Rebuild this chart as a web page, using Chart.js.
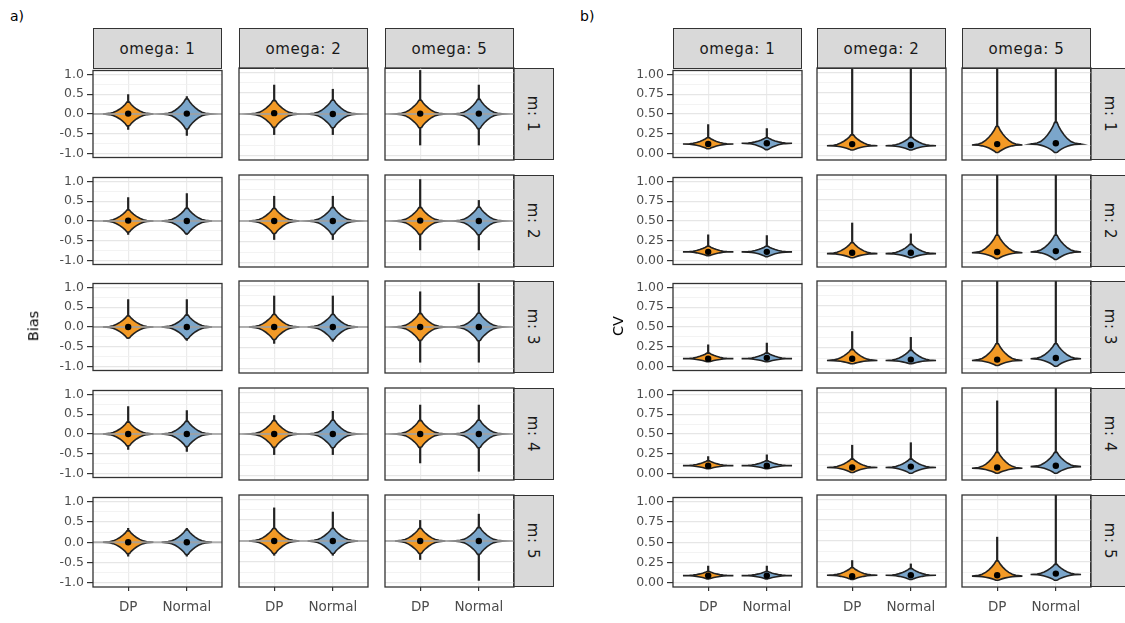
<!DOCTYPE html>
<html>
<head>
<meta charset="utf-8">
<script src="https://cdn.jsdelivr.net/npm/chart.js@4.4.0/dist/chart.umd.min.js"></script>
<style>
  body { margin: 0; background: #fff; width: 1125px; height: 623px; overflow: hidden; position: relative; font-family: "DejaVu Sans", sans-serif; }
  canvas { position: absolute; }
  .strip { position: absolute; background: #d9d9d9; border: 1px solid #333; box-sizing: border-box; color: #1a1a1a;
           font-size: 15px; letter-spacing: 0.6px; display: flex; align-items: center; justify-content: center; white-space: nowrap; }
  .strip.v span { display: inline-block; transform: rotate(90deg); }
  .lab { position: absolute; color: #000; font-size: 14px; white-space: nowrap; }
  .ytitle { position: absolute; font-size: 14.5px; color: #000; transform: rotate(-90deg); transform-origin: center; white-space: nowrap; }
</style>
</head>
<body>
<script>
// facets
const OMEGAS = ['1', '2', '5'];
const MS = ['1', '2', '3', '4', '5'];
const GROUPS = ['DP', 'Normal'];
const BIAS_TICKS = [-1, -0.5, 0, 0.5, 1];
const CV_TICKS = [0, 0.25, 0.5, 0.75, 1];

// violin outline: offset from the mode (share of body reach) -> share of max width
const PROFILE_OFFSET = [0, 0.05, 0.12, 0.25, 0.42, 0.6, 0.8, 1.0];
const PROFILE_WIDTH = [1, 0.74, 0.6, 0.46, 0.33, 0.22, 0.12, 0.05];

// Bias, rows m: 1..5, columns omega: 1, 2, 5
const BIAS_DP_LO = [[-0.4, -0.5, -0.75], [-0.35, -0.45, -0.7], [-0.3, -0.4, -0.85], [-0.4, -0.5, -0.7], [-0.35, -0.35, -0.45]];
const BIAS_DP_HI = [[0.5, 0.7, 1.05], [0.6, 0.6, 1.0], [0.7, 0.75, 0.85], [0.7, 0.45, 0.7], [0.35, 0.8, 0.5]];
const BIAS_DP_SPREAD = [[0.3, 0.32, 0.33], [0.28, 0.3, 0.32], [0.28, 0.3, 0.32], [0.3, 0.32, 0.32], [0.28, 0.3, 0.3]];
const BIAS_DP_MEAN = [[0.01, 0.02, 0.01], [0.01, 0.0, 0.01], [0.0, 0.0, 0.0], [0.0, 0.0, 0.0], [0.0, 0.0, 0.0]];
const BIAS_NORMAL_LO = [[-0.55, -0.5, -0.75], [-0.35, -0.45, -0.7], [-0.35, -0.35, -0.85], [-0.45, -0.5, -0.9], [-0.35, -0.35, -0.95]];
const BIAS_NORMAL_HI = [[0.45, 0.6, 0.7], [0.7, 0.6, 0.5], [0.7, 0.75, 1.05], [0.6, 0.55, 0.7], [0.35, 0.7, 0.65]];
const BIAS_NORMAL_SPREAD = [[0.38, 0.33, 0.35], [0.32, 0.32, 0.33], [0.3, 0.3, 0.33], [0.32, 0.33, 0.33], [0.3, 0.3, 0.32]];
const BIAS_NORMAL_MEAN = [[0.01, 0.0, 0.01], [0.0, 0.0, 0.0], [0.0, 0.0, 0.0], [0.0, 0.0, 0.0], [0.0, 0.0, 0.0]];

// CV
const CV_DP_LO = [[0.06, 0.07, 0.04], [0.06, 0.06, 0.05], [0.06, 0.06, 0.04], [0.06, 0.04, 0.03], [0.05, 0.04, 0.03]];
const CV_DP_MODE = [[0.12, 0.12, 0.13], [0.11, 0.11, 0.12], [0.1, 0.1, 0.1], [0.1, 0.1, 0.09], [0.09, 0.09, 0.08]];
const CV_DP_TOP = [[0.2, 0.25, 0.35], [0.18, 0.24, 0.33], [0.17, 0.23, 0.3], [0.16, 0.2, 0.28], [0.14, 0.18, 0.26]];
const CV_DP_HI = [[0.37, 1.05, 1.05], [0.33, 0.48, 1.05], [0.28, 0.45, 1.05], [0.22, 0.37, 0.9], [0.21, 0.27, 0.55]];
const CV_DP_MEAN = [[0.12, 0.14, 0.14], [0.11, 0.12, 0.13], [0.1, 0.12, 0.11], [0.1, 0.1, 0.1], [0.09, 0.08, 0.09]];
const CV_NORMAL_LO = [[0.05, 0.07, 0.04], [0.05, 0.06, 0.04], [0.06, 0.06, 0.03], [0.06, 0.03, 0.03], [0.05, 0.04, 0.03]];
const CV_NORMAL_MODE = [[0.13, 0.12, 0.14], [0.11, 0.11, 0.13], [0.1, 0.1, 0.12], [0.1, 0.1, 0.11], [0.09, 0.09, 0.1]];
const CV_NORMAL_TOP = [[0.2, 0.22, 0.4], [0.18, 0.22, 0.33], [0.17, 0.22, 0.3], [0.16, 0.2, 0.28], [0.14, 0.17, 0.22]];
const CV_NORMAL_HI = [[0.32, 1.05, 1.05], [0.32, 0.35, 1.05], [0.3, 0.38, 1.05], [0.24, 0.4, 1.05], [0.21, 0.23, 1.05]];
const CV_NORMAL_MEAN = [[0.13, 0.13, 0.15], [0.11, 0.12, 0.14], [0.11, 0.11, 0.13], [0.1, 0.11, 0.12], [0.09, 0.09, 0.11]];

// layout
const ROW_TOP = [68, 175, 281, 388, 495];
const PANEL_H = 92;
const PANEL_W = 129;
const COLS_A = [93, 239, 385];
const COLS_B = [673, 817, 962];
const STRIP_TOP = 28, STRIP_H = 40, STRIP_W = 41;
const AXW = 45, AXH = 30, M = 8;
const HALF = 0.43;
const FILL = ['#f39a26', '#7ba6cb'];
const OUTLINE = '#222';

const borderPlugin = {
  id: 'panelBorder',
  afterDraw(c) {
    const a = c.chartArea, g = c.ctx;
    g.save();
    g.strokeStyle = '#333';
    g.lineWidth = 1.3;
    g.strokeRect(a.left, a.top, a.right - a.left, a.bottom - a.top);
    g.restore();
  }
};

function violinShape(xc, mid, down, up) {
  const n = PROFILE_OFFSET.length;
  const pts = [];
  for (let i = n - 1; i >= 0; i--) pts.push({ x: xc + HALF * PROFILE_WIDTH[i], y: mid - down * PROFILE_OFFSET[i] });
  for (let i = 1; i < n; i++) pts.push({ x: xc + HALF * PROFILE_WIDTH[i], y: mid + up * PROFILE_OFFSET[i] });
  for (let i = n - 1; i >= 0; i--) pts.push({ x: xc - HALF * PROFILE_WIDTH[i], y: mid + up * PROFILE_OFFSET[i] });
  for (let i = 1; i < n; i++) pts.push({ x: xc - HALF * PROFILE_WIDTH[i], y: mid - down * PROFILE_OFFSET[i] });
  pts.push({ x: pts[0].x, y: pts[0].y });
  return pts;
}

function violinDatasets(v, g) {
  const xc = g + 1;
  return [
    { data: [{ x: xc, y: v.lo }, { x: xc, y: v.hi }], borderColor: OUTLINE, borderWidth: 2.2, pointRadius: 0, order: 3 },
    { data: violinShape(xc, v.mid, v.down, v.up), borderColor: OUTLINE, borderWidth: 1.6, backgroundColor: FILL[g],
      fill: 'shape', pointRadius: 0, order: 2 },
    { data: [{ x: xc, y: v.mean }], showLine: false, pointRadius: 3.2, pointBackgroundColor: '#000', pointBorderWidth: 0, order: 0 }
  ];
}

function makePanel(x0, y0, leftCol, bottom, kind, violins) {
  const isBias = kind === 'bias';
  const majors = isBias ? BIAS_TICKS : CV_TICKS;
  const vals = [];
  majors.forEach((t, i) => {
    vals.push(t);
    if (i < majors.length - 1) vals.push((t + majors[i + 1]) / 2);
  });
  const isMajor = v => majors.some(t => Math.abs(t - v) < 1e-9);

  const cv = document.createElement('canvas');
  const w = PANEL_W + 2 * M + (leftCol ? AXW : 0);
  const h = PANEL_H + 2 * M + (bottom ? AXH : 0);
  cv.width = w; cv.height = h;
  cv.style.left = (x0 - M - (leftCol ? AXW : 0)) + 'px';
  cv.style.top = (y0 - M) + 'px';
  cv.style.width = w + 'px'; cv.style.height = h + 'px';
  document.body.appendChild(cv);

  let datasets = [];
  violins.forEach((v, g) => { datasets = datasets.concat(violinDatasets(v, g)); });
  if (isBias) {
    datasets.push({ data: [{ x: 0.4, y: 0 }, { x: 2.6, y: 0 }], borderColor: 'rgba(160,160,160,0.8)', borderWidth: 2, pointRadius: 0, order: 1 });
  }

  new Chart(cv, {
    type: 'line',
    data: { datasets },
    options: {
      responsive: false,
      animation: false,
      devicePixelRatio: 1,
      events: [],
      layout: { padding: M },
      elements: { line: { tension: 0 } },
      plugins: { legend: { display: false }, tooltip: { enabled: false } },
      scales: {
        x: {
          type: 'linear', min: 0.4, max: 2.6,
          afterBuildTicks: s => { s.ticks = [{ value: 1 }, { value: 2 }]; },
          afterFit: s => { s.height = bottom ? AXH : 0; },
          border: { display: false },
          grid: { color: '#ebebeb', lineWidth: 1.2, drawTicks: bottom, tickLength: 4, tickColor: '#333' },
          ticks: { display: bottom, autoSkip: false, maxRotation: 0, padding: 8, color: '#4d4d4d',
                   font: { family: 'DejaVu Sans', size: 13.5 }, callback: v => GROUPS[Math.round(v) - 1] }
        },
        y: {
          type: 'linear', min: isBias ? -1.1 : -0.05, max: isBias ? 1.1 : 1.05,
          afterBuildTicks: s => { s.ticks = vals.map(v => ({ value: v })); },
          afterFit: s => { s.width = leftCol ? AXW : 0; },
          border: { display: false },
          grid: {
            color: c => isMajor(c.tick.value) ? '#e6e6e6' : '#f0f0f0',
            lineWidth: c => isMajor(c.tick.value) ? 1.2 : 0.8,
            drawTicks: leftCol, tickLength: 6,
            tickColor: c => isMajor(c.tick.value) ? '#333' : 'rgba(0,0,0,0)'
          },
          ticks: { display: leftCol, autoSkip: false, padding: 3, color: '#4d4d4d',
                   font: { family: 'DejaVu Sans', size: 12.5 },
                   callback: v => isMajor(v) ? v.toFixed(isBias ? 1 : 2) : '' }
        }
      }
    },
    plugins: [borderPlugin]
  });
}

function addDiv(cls, html, left, top, w, h) {
  const d = document.createElement('div');
  d.className = cls;
  d.innerHTML = html;
  d.style.left = left + 'px'; d.style.top = top + 'px';
  if (w != null) d.style.width = w + 'px';
  if (h != null) d.style.height = h + 'px';
  document.body.appendChild(d);
  return d;
}

function buildFigure(cols, kind) {
  cols.forEach((x0, c) => {
    addDiv('strip', 'omega: ' + OMEGAS[c], x0, STRIP_TOP, PANEL_W, STRIP_H + 1);
  });
  MS.forEach((m, r) => {
    addDiv('strip v', '<span>m: ' + m + '</span>', cols[2] + PANEL_W - 1, ROW_TOP[r], STRIP_W, PANEL_H);
    cols.forEach((x0, c) => {
      let violins;
      if (kind === 'bias') {
        violins = [
          { lo: BIAS_DP_LO[r][c], hi: BIAS_DP_HI[r][c], mid: 0, down: BIAS_DP_SPREAD[r][c], up: BIAS_DP_SPREAD[r][c], mean: BIAS_DP_MEAN[r][c] },
          { lo: BIAS_NORMAL_LO[r][c], hi: BIAS_NORMAL_HI[r][c], mid: 0, down: BIAS_NORMAL_SPREAD[r][c], up: BIAS_NORMAL_SPREAD[r][c], mean: BIAS_NORMAL_MEAN[r][c] }
        ];
      } else {
        violins = [
          { lo: CV_DP_LO[r][c], hi: CV_DP_HI[r][c], mid: CV_DP_MODE[r][c], down: CV_DP_MODE[r][c] - CV_DP_LO[r][c],
            up: CV_DP_TOP[r][c] - CV_DP_MODE[r][c], mean: CV_DP_MEAN[r][c] },
          { lo: CV_NORMAL_LO[r][c], hi: CV_NORMAL_HI[r][c], mid: CV_NORMAL_MODE[r][c], down: CV_NORMAL_MODE[r][c] - CV_NORMAL_LO[r][c],
            up: CV_NORMAL_TOP[r][c] - CV_NORMAL_MODE[r][c], mean: CV_NORMAL_MEAN[r][c] }
        ];
      }
      makePanel(x0, ROW_TOP[r], c === 0, r === MS.length - 1, kind, violins);
    });
  });
}

buildFigure(COLS_A, 'bias');
buildFigure(COLS_B, 'cv');

addDiv('lab', 'a)', 10, 8);
addDiv('lab', 'b)', 580, 8);
addDiv('ytitle', 'Bias', 18, 318);
addDiv('ytitle', 'CV', 608, 318);
</script>
</body>
</html>
